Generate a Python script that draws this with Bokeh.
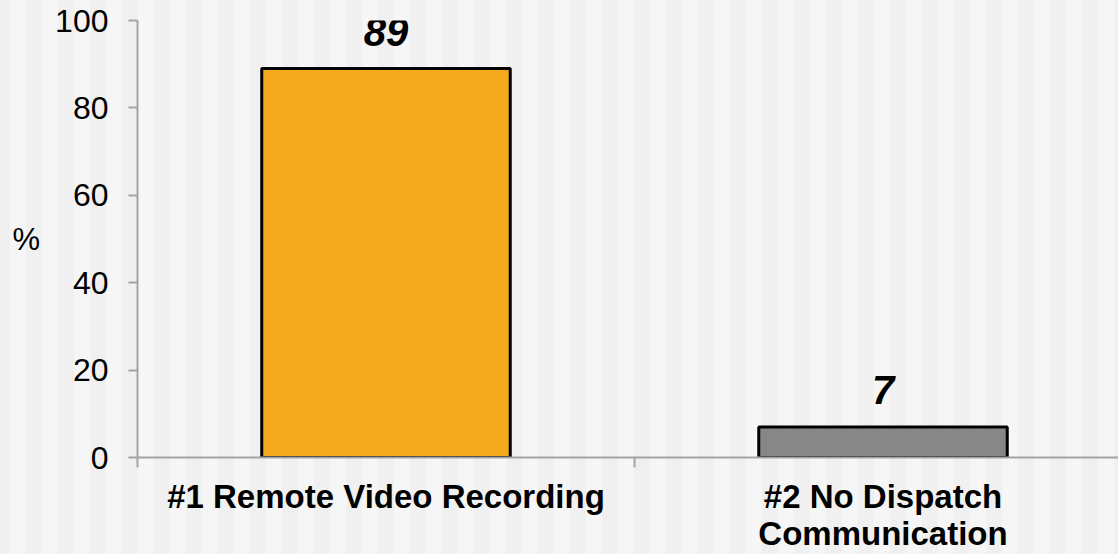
from bokeh.plotting import figure
from bokeh.models import ColumnDataSource, Range1d, FixedTicker, LabelSet, Label, InlineStyleSheet
from bokeh.core.properties import value
from bokeh.embed import file_html
from bokeh.resources import INLINE

categories = ["#1 Remote Video Recording", "#2 No Dispatch\nCommunication"]
values = [89, 7]
bar_colors = ["#F4A81E", "#878787"]
value_labels = ["89", "7"]
y_ticks = [0, 20, 40, 60, 80, 100]
y_title = "%"

xs = [i + 0.5 for i in range(len(categories))]
src = ColumnDataSource(dict(x=xs, top=values, color=bar_colors, lab=value_labels))

W, H = 1118, 554
left, top, bottom = 137, 20, 96
cat_px = 497.0
x_end = (W - left) / cat_px

p = figure(width=W, height=H, output_backend="svg", toolbar_location=None,
           x_range=Range1d(0, x_end), y_range=Range1d(0, 100),
           min_border_left=left, min_border_right=0, min_border_top=top, min_border_bottom=bottom)
p.background_fill_alpha = 0
p.border_fill_alpha = 0
p.outline_line_color = None
p.xgrid.visible = False
p.ygrid.visible = False
p.stylesheets = [InlineStyleSheet(css=":host { background: repeating-linear-gradient(90deg, #f0f0f0 0px, #f0f0f0 10px, #f6f6f6 10px, #f6f6f6 26px, #f0f0f0 26px, #f0f0f0 32px); }")]

p.vbar(x="x", top="top", width=0.5, bottom=0, fill_color="color", line_color="black", line_width=3, source=src)

labels = LabelSet(x="x", y="top", text="lab", source=src, text_align="center", text_baseline="alphabetic",
                  y_offset=23, text_font=value("Liberation Sans"), text_font_style="bold italic",
                  text_font_size="40px", text_color="black")
p.add_layout(labels)

axis_color = "#a3a3a3"
ya = p.yaxis[0]
ya.ticker = FixedTicker(ticks=y_ticks)
ya.axis_line_color = axis_color
ya.axis_line_width = 2
ya.major_tick_line_color = axis_color
ya.major_tick_line_width = 2
ya.major_tick_out = 9
ya.major_tick_in = 0
ya.minor_tick_line_color = None
ya.major_label_standoff = 20
ya.major_label_text_font = "Liberation Sans"
ya.major_label_text_font_size = "32px"
ya.major_label_text_color = "black"

use_axis_label = "axis_label_orientation" in ya.properties()
if use_axis_label:
    ya.axis_label = y_title
    ya.axis_label_orientation = "horizontal"
    ya.axis_label_standoff = 12
    ya.axis_label_text_font = "Liberation Sans"
    ya.axis_label_text_font_size = "31px"
    ya.axis_label_text_font_style = "normal"
    ya.axis_label_text_color = "black"

xa = p.xaxis[0]
xa.ticker = FixedTicker(ticks=xs, minor_ticks=list(range(len(categories) + 1)))
xa.major_label_overrides = {x: c for x, c in zip(xs, categories)}
xa.axis_line_color = axis_color
xa.axis_line_width = 2
xa.major_tick_line_color = None
xa.major_tick_out = 0
xa.major_tick_in = 0
xa.minor_tick_line_color = axis_color
xa.minor_tick_line_width = 2
xa.minor_tick_out = 10
xa.minor_tick_in = 0
xa.major_label_standoff = 10
xa.major_label_text_font = "Liberation Sans"
xa.major_label_text_font_style = "bold"
xa.major_label_text_font_size = "33px"
xa.major_label_text_color = "black"
xa.major_label_text_line_height = 1.0

if not use_axis_label:
    pct = Label(x=25 - left, y=(H - bottom) - 241, x_units="screen", y_units="screen", text=y_title,
                text_align="center", text_baseline="middle", text_font="Liberation Sans",
                text_font_size="31px", text_color="black")
    p.add_layout(pct)

open("out.html", "w").write(file_html(p, INLINE))
